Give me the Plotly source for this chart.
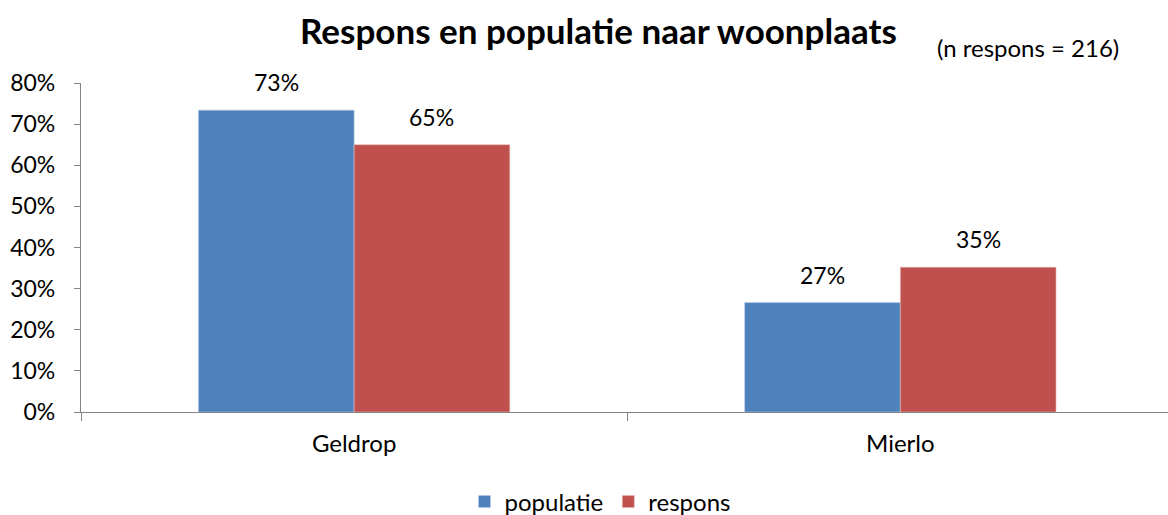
import plotly.graph_objects as go

categories = ["Geldrop", "Mierlo"]
populatie = [0.734, 0.266]
respons = [0.65, 0.352]
labels_pop = ["73%", "27%"]
labels_resp = ["65%", "35%"]
tick_vals = [0, 0.1, 0.2, 0.3, 0.4, 0.5, 0.6, 0.7, 0.8]
tick_text = ["0%", "10%", "20%", "30%", "40%", "50%", "60%", "70%", "80%"]

FONT = "Lato, Open Sans, sans-serif"
BLUE = "#4F81BD"
RED = "#C0504D"

L, T, PW, PH = 81, 83, 1087, 329

def px(xp):
    return (xp - L) / PW

def py(yp):
    return (T + PH - yp) / PH

fig = go.Figure()
fig.add_trace(go.Bar(name="populatie", x=categories, y=populatie, marker=dict(color=BLUE, line=dict(width=0.6, color="#B9CDE5"))))
fig.add_trace(go.Bar(name="respons", x=categories, y=respons, marker=dict(color=RED, line=dict(width=0.6, color="#E6B9B8"))))

# data labels
for i, c in enumerate(categories):
    for vals, labs, off in ((populatie, labels_pop, -0.1425), (respons, labels_resp, 0.1425)):
        fig.add_annotation(x=i + off, y=vals[i], xref="x", yref="y", text=labs[i],
                           showarrow=False, xanchor="center", yanchor="bottom", yshift=12,
                           font=dict(family=FONT, size=23, color="#000000"))

fig.add_annotation(x=px(598), y=py(30), xref="paper", yref="paper",
                   text="<b>Respons en populatie naar woonplaats</b>",
                   showarrow=False, xanchor="center", yanchor="middle",
                   font=dict(family=FONT, size=35, color="#000000"))
fig.add_annotation(x=px(1028), y=py(47), xref="paper", yref="paper",
                   text="(n respons = 216)", showarrow=False, xanchor="center", yanchor="middle",
                   font=dict(family=FONT, size=24, color="#000000"))

fig.update_layout(
    width=1168, height=515,
    margin=dict(l=L, r=1168 - L - PW, t=T, b=515 - T - PH, autoexpand=False),
    paper_bgcolor="white", plot_bgcolor="white",
    barmode="group", bargap=0.43, bargroupgap=0,
    font=dict(family=FONT, size=22, color="#000000"),
    showlegend=True,
    legend=dict(orientation="h", x=px(600), xanchor="center", y=py(502), yanchor="middle",
                font=dict(family=FONT, size=24), itemwidth=30, traceorder="normal"),
    xaxis=dict(range=[-0.5, 1.49], showline=True, linecolor="#868686", linewidth=1.3,
               ticks="outside", tickson="boundaries", ticklen=8, tickcolor="#868686",
               tickfont=dict(family=FONT, size=24), showgrid=False, zeroline=False,
               automargin=False, ticklabelstandoff=10),
    yaxis=dict(range=[0, 0.8], tickvals=tick_vals, ticktext=tick_text, showline=True,
               linecolor="#868686", linewidth=1.3, ticks="outside", ticklen=6, tickcolor="#868686",
               tickfont=dict(family=FONT, size=23), showgrid=False, zeroline=False,
               automargin=False, ticklabelstandoff=14),
)

fig.write_html("out.html", config={"displayModeBar": False},
               post_script="document.body.style.margin='0';document.body.style.overflow='hidden';")
